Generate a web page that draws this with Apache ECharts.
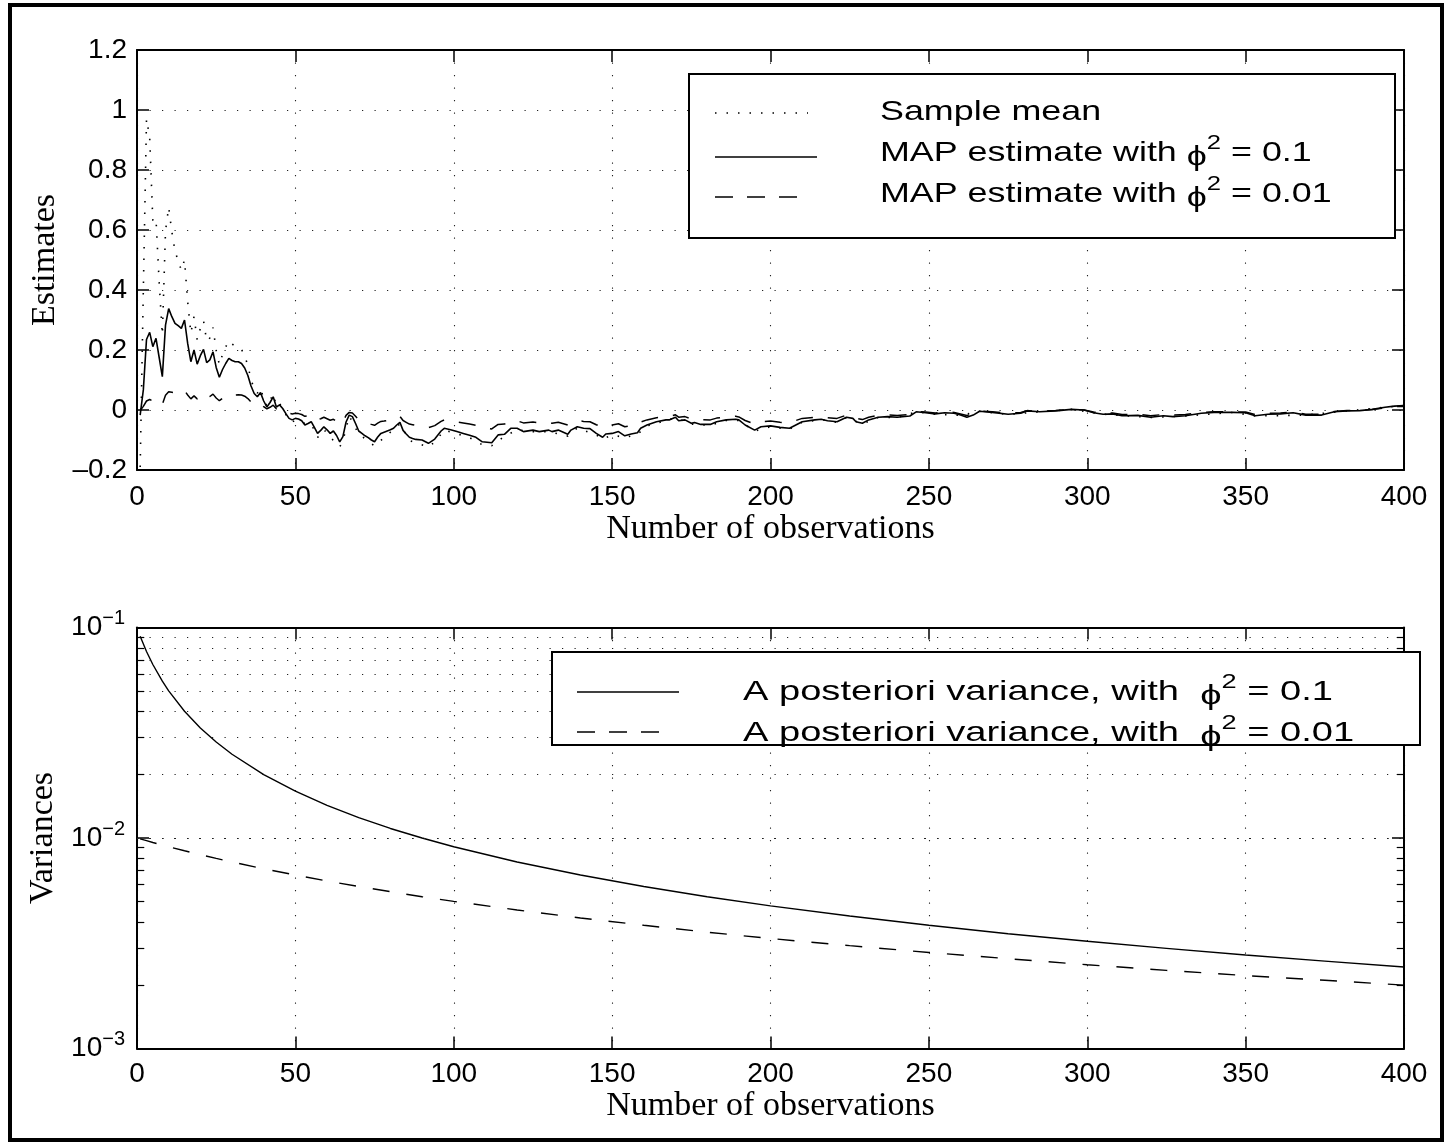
<!DOCTYPE html>
<html>
<head>
<meta charset="utf-8">
<script src="https://cdn.jsdelivr.net/npm/echarts@6/dist/echarts.min.js"></script>
<style>
html,body{margin:0;padding:0;background:#fff;}
#chart{width:1448px;height:1145px;}
</style>
</head>
<body>
<div id="chart"></div>
<script>
// ---------------- DATA ----------------
const xTickValues = [0, 50, 100, 150, 200, 250, 300, 350, 400];

// top panel: number of observations for the two MAP estimates
const mapN = [
1,2,3,4,5,6,7,8,9,10,
11,12,13,14,15,16,17,18,19,20,
21,22,23,24,25,26,27,28,29,30,
31,32,33,34,35,36,37,38,39,40,
41,42,43,44,45,46,47,48,49,50,
51,52,53,54,55,56,57,58,59,60,
61,62,63,64,65,66,67,68,69,70,
71,72,73,74,75,76,77,78,79,80,
81,82,83,84,85,86,87,88,
90,92,94,96,97,99,101,103,105,107,
109,112,114,116,118,120,122,125,127,130,
131,133,136,137,139,141,143,145,147,148,
150,152,154,156,158,159,161,164,167,168,
170,171,173,175,176,178,181,183,186,189,
190,192,195,197,200,203,206,208,210,214,
216,218,221,224,226,227,229,231,234,237,
240,244,246,249,252,255,258,260,262,264,
266,270,275,279,281,285,290,295,299,302,
305,308,311,316,320,324,327,331,336,340,
346,350,353,357,361,365,369,374,378,382,
386,390,394,397,400];

// MAP estimate with phi^2 = 0.1 (solid)
const mapPhi01 = [
-0.017,0.067,0.235,0.259,0.211,0.239,0.175,0.111,0.283,0.338,
0.311,0.289,0.281,0.272,0.300,0.222,0.161,0.200,0.153,0.181,
0.202,0.158,0.167,0.194,0.142,0.109,0.135,0.155,0.172,0.165,
0.161,0.161,0.155,0.140,0.115,0.080,0.055,0.044,0.058,0.030,
0.010,0.025,0.044,0.010,0.017,0.005,-0.012,-0.028,-0.033,-0.028,
-0.030,-0.036,-0.050,-0.045,-0.039,-0.058,-0.078,-0.068,-0.056,-0.066,
-0.078,-0.070,-0.085,-0.106,-0.089,-0.040,-0.017,-0.022,-0.045,-0.070,
-0.078,-0.086,-0.092,-0.100,-0.106,-0.090,-0.078,-0.074,-0.070,-0.066,
-0.061,-0.050,-0.041,-0.068,-0.080,-0.091,-0.095,-0.098,
-0.100,-0.111,-0.097,-0.070,-0.061,-0.066,-0.072,-0.078,-0.084,-0.091,
-0.106,-0.109,-0.083,-0.081,-0.061,-0.061,-0.072,-0.067,-0.072,-0.067,
-0.072,-0.067,-0.081,-0.067,-0.056,-0.061,-0.062,-0.078,-0.091,-0.080,
-0.078,-0.072,-0.086,-0.080,-0.076,-0.061,-0.050,-0.039,-0.033,-0.033,
-0.024,-0.036,-0.033,-0.044,-0.042,-0.048,-0.048,-0.039,-0.033,-0.031,
-0.033,-0.050,-0.067,-0.056,-0.053,-0.058,-0.061,-0.050,-0.039,-0.033,
-0.031,-0.036,-0.039,-0.024,-0.028,-0.039,-0.044,-0.033,-0.024,-0.022,
-0.024,-0.020,-0.006,-0.009,-0.013,-0.009,-0.011,-0.017,-0.024,-0.017,
-0.004,-0.008,-0.014,-0.011,-0.003,-0.006,-0.003,0.002,0.000,-0.009,
-0.014,-0.013,-0.019,-0.018,-0.024,-0.019,-0.022,-0.019,-0.011,-0.008,
-0.008,-0.009,-0.019,-0.014,-0.013,-0.009,-0.017,-0.017,-0.006,-0.003,
-0.002,0.002,0.009,0.013,0.015];

// MAP estimate with phi^2 = 0.01 (dashed)
const mapPhi001 = [
-0.002,0.012,0.030,0.035,0.030,0.036,0.028,0.019,0.049,0.061,
0.059,0.057,0.057,0.057,0.065,0.050,0.037,0.047,0.037,0.045,
0.052,0.041,0.045,0.053,0.040,0.031,0.039,0.046,0.052,0.051,
0.050,0.051,0.050,0.046,0.038,0.027,0.019,0.015,0.020,0.011,
0.004,0.009,0.016,0.004,0.006,0.002,-0.005,-0.011,-0.013,-0.011,
-0.012,-0.015,-0.021,-0.019,-0.016,-0.025,-0.033,-0.029,-0.024,-0.029,
-0.034,-0.031,-0.038,-0.048,-0.040,-0.018,-0.008,-0.010,-0.021,-0.033,
-0.037,-0.041,-0.044,-0.048,-0.051,-0.044,-0.038,-0.037,-0.035,-0.033,
-0.031,-0.025,-0.021,-0.035,-0.041,-0.047,-0.049,-0.051,
-0.053,-0.059,-0.052,-0.038,-0.033,-0.036,-0.040,-0.043,-0.047,-0.051,
-0.060,-0.063,-0.048,-0.047,-0.036,-0.036,-0.043,-0.040,-0.043,-0.041,
-0.044,-0.041,-0.050,-0.042,-0.035,-0.038,-0.039,-0.049,-0.058,-0.051,
-0.050,-0.046,-0.056,-0.052,-0.049,-0.040,-0.033,-0.026,-0.022,-0.022,
-0.016,-0.024,-0.022,-0.030,-0.028,-0.032,-0.033,-0.027,-0.023,-0.021,
-0.023,-0.035,-0.047,-0.039,-0.037,-0.041,-0.043,-0.035,-0.028,-0.024,
-0.022,-0.026,-0.028,-0.017,-0.020,-0.028,-0.032,-0.024,-0.018,-0.016,
-0.018,-0.015,-0.004,-0.007,-0.010,-0.007,-0.008,-0.013,-0.018,-0.013,
-0.003,-0.006,-0.011,-0.008,-0.002,-0.005,-0.002,0.002,0.000,-0.007,
-0.011,-0.010,-0.015,-0.014,-0.019,-0.015,-0.017,-0.015,-0.009,-0.006,
-0.006,-0.007,-0.015,-0.011,-0.010,-0.007,-0.014,-0.014,-0.005,-0.002,
-0.002,0.002,0.007,0.011,0.012];

// sample mean (dotted)
const meanN = [
1,2,3,4,5,6,7,8,9,10,
11,12,13,14,15,16,17,18,19,20,
21,22,23,24,25,26,27,28,29,30,
31,32,33,34,35,36,37,38,39,40,
41,42,43,44,45,46,47,48,49,50,
52,55,57,59,61,64,65,67,70,75,
80,83,86,88,92,94,97,101,105,109,
112,116,120,125,130,136,139,145,147,150,
154,158,161,167,170,175,181,186,190,195,
200,206,210,216,221,224,229,234,240,246,
252,260,266,275,285,295,305,320,331,346,
353,369,382,394,400];
const sampleMean = [
-0.19,0.40,0.97,0.91,0.63,0.637,0.425,0.25,0.597,0.676,
0.594,0.530,0.497,0.466,0.500,0.361,0.256,0.311,0.234,0.272,
0.298,0.230,0.240,0.275,0.199,0.151,0.185,0.210,0.231,0.220,
0.213,0.211,0.202,0.181,0.148,0.102,0.070,0.056,0.073,0.038,
0.012,0.031,0.054,0.012,0.021,0.006,-0.015,-0.034,-0.040,-0.034,
-0.043,-0.046,-0.092,-0.065,-0.091,-0.123,-0.103,-0.020,-0.080,-0.120,
-0.074,-0.046,-0.102,-0.109,-0.123,-0.107,-0.067,-0.079,-0.092,-0.116,
-0.119,-0.088,-0.066,-0.072,-0.072,-0.087,-0.060,-0.083,-0.097,-0.083,
-0.092,-0.081,-0.053,-0.035,-0.025,-0.047,-0.051,-0.035,-0.035,-0.070,
-0.056,-0.064,-0.041,-0.032,-0.041,-0.025,-0.046,-0.025,-0.025,-0.006,
-0.014,-0.018,-0.004,-0.015,-0.006,0.002,-0.014,-0.025,-0.020,-0.008,
-0.020,-0.017,-0.003,0.009,0.015];

// bottom panel: a posteriori variances
const varN = [1,3,5,8,10,15,20,25,30,40,50,60,70,80,90,100,120,140,160,180,200,225,250,275,300,325,350,375,400];
const varPhi01 = [0.0909,0.0769,0.0667,0.0556,0.0500,0.0400,0.0333,0.0286,0.0250,0.0200,0.0167,0.0143,0.0125,0.0111,0.0100,0.00909,0.00769,0.00667,0.00588,0.00526,0.00476,0.00426,0.00385,0.00351,0.00323,0.00299,0.00278,0.00260,0.00244];
const varPhi001 = [0.0099,0.00971,0.00952,0.00926,0.00909,0.00870,0.00833,0.00800,0.00769,0.00714,0.00667,0.00625,0.00588,0.00556,0.00526,0.00500,0.00455,0.00417,0.00385,0.00357,0.00333,0.00308,0.00286,0.00267,0.00250,0.00235,0.00222,0.00211,0.00200];

// log-axis minor grid values
const logMinor = [0.002,0.003,0.004,0.005,0.006,0.007,0.008,0.009,0.02,0.03,0.04,0.05,0.06,0.07,0.08,0.09];

// legend labels
const topLegend = ['Sample mean', 'MAP estimate with ', 'MAP estimate with '];
const topLegendVals = ['', ' = 0.1', ' = 0.01'];
const botLegend = ['A posteriori variance, with  ', 'A posteriori variance, with  '];
const botLegendVals = [' = 0.1', ' = 0.01'];

// ---------------- CHECK ----------------
if (mapN.length !== mapPhi01.length || mapN.length !== mapPhi001.length) throw new Error('map length mismatch ' + mapN.length + ' ' + mapPhi01.length + ' ' + mapPhi001.length);
if (meanN.length !== sampleMean.length) throw new Error('mean length mismatch ' + meanN.length + ' ' + sampleMean.length);
if (varN.length !== varPhi01.length || varN.length !== varPhi001.length) throw new Error('var length mismatch');

const pairs = (xs, ys) => xs.map((x, i) => [x, ys[i]]);

// ---------------- STYLE ----------------
const SANS = "'Liberation Sans', Arial, Helvetica, 'DejaVu Sans', sans-serif";
const SERIF = "'Liberation Serif', 'Times New Roman', Times, serif";
const BLACK = '#000';
const gridDots = { color: '#222', width: 1.1, type: [1.2, 11.3] };
const tickStyle = { color: BLACK, width: 1.5 };
const axisLineStyle = { color: BLACK, width: 2 };
const TICK_FS = 28;
const TITLE_FS = 34;

const L = 137, W = 1267;
const G0 = { left: L, top: 50, width: W, height: 420 };
const G1 = { left: L, top: 627.5, width: W, height: 421 };

function xAxisDef(gridIndex, position, main) {
  return {
    type: 'value', gridIndex, position, min: 0, max: 400, interval: 50,
    axisLine: { show: true, onZero: false, lineStyle: axisLineStyle },
    axisTick: { show: true, inside: true, length: 12, lineStyle: tickStyle },
    axisLabel: main ? { show: true, color: BLACK, fontSize: TICK_FS, fontFamily: SANS, margin: gridIndex === 0 ? 13 : 12 } : { show: false },
    splitLine: main ? { show: true, lineStyle: gridDots } : { show: false },
    name: main ? 'Number of observations' : '',
    nameLocation: 'middle',
    nameGap: gridIndex === 0 ? 36 : 35,
    nameTextStyle: { color: BLACK, fontSize: TITLE_FS, fontFamily: SERIF }
  };
}

const supRich = {
  b: { fontSize: TICK_FS, fontFamily: SANS, color: BLACK },
  s: { fontSize: 20, fontFamily: SANS, color: BLACK, padding: [0, 0, 18, 0] }
};

const yAxes = [
  {
    type: 'value', gridIndex: 0, position: 'left', min: -0.2, max: 1.2, interval: 0.2,
    axisLine: { show: true, onZero: false, lineStyle: axisLineStyle },
    axisTick: { show: true, inside: true, length: 12, lineStyle: tickStyle },
    axisLabel: {
      color: BLACK, fontSize: TICK_FS, fontFamily: SANS, margin: 10,
      formatter: v => String(Math.round(v * 10) / 10).replace('-', '\u2013')
    },
    splitLine: { show: true, lineStyle: gridDots },
    name: 'Estimates', nameLocation: 'middle', nameGap: 68,
    nameTextStyle: { color: BLACK, fontSize: TITLE_FS, fontFamily: SERIF }
  },
  {
    type: 'value', gridIndex: 0, position: 'right', min: -0.2, max: 1.2, interval: 0.2,
    axisLine: { show: true, onZero: false, lineStyle: axisLineStyle },
    axisTick: { show: true, inside: true, length: 12, lineStyle: tickStyle },
    axisLabel: { show: false }, splitLine: { show: false }
  },
  {
    type: 'log', logBase: 10, gridIndex: 1, position: 'left', min: 0.001, max: 0.1,
    axisLine: { show: true, onZero: false, lineStyle: axisLineStyle },
    axisTick: { show: true, inside: true, length: 12, lineStyle: tickStyle },
    axisLabel: {
      margin: 12, rich: supRich,
      formatter: v => '{b|10}{s|\u2212' + Math.abs(Math.round(Math.log10(v))) + '}'
    },
    splitLine: { show: true, lineStyle: gridDots },
    name: 'Variances', nameLocation: 'middle', nameGap: 65,
    nameTextStyle: { color: BLACK, fontSize: TITLE_FS, fontFamily: SERIF }
  },
  {
    type: 'log', logBase: 10, gridIndex: 1, position: 'right', min: 0.001, max: 0.1,
    axisLine: { show: true, onZero: false, lineStyle: axisLineStyle },
    axisTick: { show: true, inside: true, length: 12, lineStyle: tickStyle },
    axisLabel: { show: false }, splitLine: { show: false }
  }
];

// minor grid lines + minor ticks on the log axis (through the library's scales)
const minorMarks = [];
logMinor.forEach(v => {
  minorMarks.push({ yAxis: v, lineStyle: gridDots });
  minorMarks.push([{ coord: [0, v], lineStyle: { color: BLACK, width: 1.2, type: 'solid' } }, { coord: [2.3, v] }]);
  minorMarks.push([{ coord: [397.7, v], lineStyle: { color: BLACK, width: 1.2, type: 'solid' } }, { coord: [400, v] }]);
});

const lineBase = { type: 'line', showSymbol: false, symbol: 'none', smooth: false, silent: true, clip: true, animation: false, emphasis: { disabled: true } };

const series = [
  Object.assign({}, lineBase, { name: 'Sample mean', xAxisIndex: 0, yAxisIndex: 0, data: pairs(meanN, sampleMean),
    lineStyle: { color: BLACK, width: 1.6, type: [1.5, 10] } }),
  Object.assign({}, lineBase, { name: 'MAP phi2=0.1', xAxisIndex: 0, yAxisIndex: 0, data: pairs(mapN, mapPhi01),
    lineStyle: { color: BLACK, width: 1.6, type: 'solid' } }),
  Object.assign({}, lineBase, { name: 'MAP phi2=0.01', xAxisIndex: 0, yAxisIndex: 0, data: pairs(mapN, mapPhi001),
    lineStyle: { color: BLACK, width: 1.5, type: [17, 15] } }),
  Object.assign({}, lineBase, { name: 'Var phi2=0.1', xAxisIndex: 2, yAxisIndex: 2, data: pairs(varN, varPhi01),
    lineStyle: { color: BLACK, width: 1.4, type: 'solid' },
    markLine: { silent: true, animation: false, symbol: ['none', 'none'], label: { show: false }, emphasis: { disabled: true }, data: minorMarks } }),
  Object.assign({}, lineBase, { name: 'Var phi2=0.01', xAxisIndex: 2, yAxisIndex: 2, data: pairs(varN, varPhi001),
    lineStyle: { color: BLACK, width: 1.4, type: [17, 17] } })
];

// ---------------- LEGENDS (graphic) ----------------
const LEG_FS = 28;
const PHI = '\u03d5';
const legRich = {
  t: { fontSize: LEG_FS, fontFamily: SANS, fill: BLACK, color: BLACK },
  p: { fontSize: LEG_FS, fontFamily: SANS, fill: BLACK, color: BLACK, padding: [8, 0, 0, 0] },
  s: { fontSize: 20, fontFamily: SANS, fill: BLACK, color: BLACK, padding: [0, 0, 20, 0] }
};
function legText(x, y, main, val, scaleX) {
  const txt = val ? '{t|' + main + '}{p|' + PHI + '}{s|2}{t|' + val + '}' : '{t|' + main + '}';
  return { type: 'text', x, y, scaleX, z: 101, silent: true,
    style: { text: txt, x: 0, y: 0, align: 'left', verticalAlign: 'middle', rich: legRich, fontSize: LEG_FS, fontFamily: SANS, fill: BLACK } };
}
function legLine(x1, x2, y, dash, w) {
  return { type: 'line', z: 101, silent: true, shape: { x1, y1: y, x2, y2: y },
    style: { stroke: BLACK, lineWidth: w, lineDash: dash || null, lineCap: 'butt' } };
}

const graphic = [
  { type: 'rect', z: 0, silent: true, shape: { x: 10, y: 5, width: 1432, height: 1135 }, style: { fill: null, stroke: BLACK, lineWidth: 4 } },
  // top legend
  { type: 'rect', z: 100, silent: true, shape: { x: 689, y: 74, width: 706, height: 164 }, style: { fill: '#fff', stroke: BLACK, lineWidth: 2 } },
  legLine(715, 808, 113, [1.5, 10], 1.6),
  legLine(715, 817, 157, null, 1.6),
  legLine(715, 801, 197, [18, 14], 1.6),
  legText(880, 112, topLegend[0], topLegendVals[0], 1.28),
  legText(880, 153, topLegend[1], topLegendVals[1], 1.28),
  legText(880, 194, topLegend[2], topLegendVals[2], 1.28),
  // bottom legend
  { type: 'rect', z: 100, silent: true, shape: { x: 552, y: 652, width: 868, height: 93 }, style: { fill: '#fff', stroke: BLACK, lineWidth: 2 } },
  legLine(577, 679, 692, null, 1.6),
  legLine(577, 665, 732, [18, 14], 1.6),
  legText(743, 692, botLegend[0], botLegendVals[0], 1.36),
  legText(743, 733, botLegend[1], botLegendVals[1], 1.36)
];

const option = {
  backgroundColor: '#fff',
  animation: false,
  grid: [
    Object.assign({ containLabel: false, outerBoundsMode: 'none' }, G0),
    Object.assign({ containLabel: false, outerBoundsMode: 'none' }, G1)
  ],
  xAxis: [xAxisDef(0, 'bottom', true), xAxisDef(0, 'top', false), xAxisDef(1, 'bottom', true), xAxisDef(1, 'top', false)],
  yAxis: yAxes,
  series,
  graphic
};

const chart = echarts.init(document.getElementById('chart'), null, { renderer: 'canvas' });
chart.setOption(option);
</script>
</body>
</html>
